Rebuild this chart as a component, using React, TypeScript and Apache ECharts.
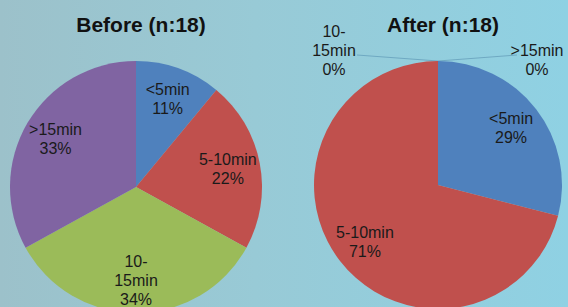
import React, { useEffect, useRef } from 'react';
import * as echarts from 'echarts';

const categories = ['<5min', '5-10min', '10-15min', '>15min'];
const labelNames = ['<5min', '5-10min', '10-\n15min', '>15min'];
const beforeValues = [11, 22, 34, 33];
const afterValues = [29, 71, 0, 0];
const titles = ['Before (n:18)', 'After (n:18)'];
const colors = ['#4f81bd', '#c0504d', '#9bbb59', '#8064a2'];

const FONT = '"Liberation Sans", Arial, sans-serif';

export default function App() {
  const ref = useRef<HTMLDivElement>(null);

  useEffect(() => {
    if (!ref.current) return;
    const chart = echarts.init(ref.current, undefined, { renderer: 'svg' });

    const labelStyle = { color: '#1a1a1a', fontSize: 16, fontFamily: FONT, lineHeight: 19 };
    const fmt = (p: any) => `${labelNames[p.dataIndex]}\n${Math.round(p.percent)}%`;

    const mainData = (vals: number[], withZeroLabels: boolean) =>
      vals.map((v, i) => ({
        value: v,
        name: categories[i],
        itemStyle: { color: colors[i] },
        label: { show: withZeroLabels && v === 0 },
        labelLine: { show: withZeroLabels && v === 0 },
      }));
    const labelData = (vals: number[]) =>
      vals.map((v, i) => ({
        value: v,
        name: categories[i],
        label: { show: v !== 0 },
      }));

    const pies = [
      { vals: beforeValues, center: [136, 187], r: 126 },
      { vals: afterValues, center: [438, 185], r: 124 },
    ];

    const series: any[] = [];
    pies.forEach((pc, idx) => {
      series.push({
        type: 'pie',
        center: pc.center,
        radius: pc.r,
        startAngle: 90,
        clockwise: true,
        silent: true,
        avoidLabelOverlap: false,
        itemStyle: { borderWidth: 0 },
        label: { show: idx === 1, position: 'outside', formatter: fmt, ...labelStyle },
        labelLine: { show: idx === 1, length: 10, length2: 10, lineStyle: { color: '#6fa9c2', width: 1 } },
        labelLayout:
          idx === 1
            ? (p: any) => {
                const pts = p.labelLinePoints;
                const ax = pts ? pts[0][0] : pc.center[0];
                const ay = pts ? pts[0][1] : pc.center[1] - pc.r;
                const left = p.dataIndex === 2;
                const ex = left ? ax - 81 : ax + 79;
                const ey = ay - 6;
                return {
                  x: left ? ax - 104 : ax + 99,
                  y: left ? ay - 11 : ay - 1,
                  align: 'center',
                  verticalAlign: 'middle',
                  labelLinePoints: [
                    [ax, ay],
                    [ex, ey],
                    [ex, ey],
                  ],
                };
              }
            : undefined,
        data: mainData(pc.vals, idx === 1),
      });
      series.push({
        type: 'pie',
        center: pc.center,
        radius: [Math.round(pc.r * 0.44), pc.r],
        startAngle: 90,
        clockwise: true,
        silent: true,
        avoidLabelOverlap: false,
        itemStyle: { color: 'rgba(0,0,0,0)', borderWidth: 0 },
        label: { show: true, position: 'inside', formatter: fmt, ...labelStyle },
        labelLine: { show: false },
        data: labelData(pc.vals),
      });
    });

    chart.setOption({
      animation: false,
      backgroundColor: 'transparent',
      title: titles.map((t, i) => ({
        text: t,
        left: pies[i].center[0],
        top: 9,
        textAlign: 'center',
        textStyle: { fontFamily: FONT, fontWeight: 'bold', fontSize: 21, color: '#111111' },
      })),
      series,
    });

    return () => chart.dispose();
  }, []);

  return (
    <div
      style={{
        position: 'fixed',
        left: 0,
        top: 0,
        width: 568,
        height: 307,
        background: 'linear-gradient(to right, #9cc1ca 0%, #98cad6 45%, #8fd1e3 100%)',
      }}
    >
      <div ref={ref} style={{ width: 568, height: 307 }} />
    </div>
  );
}
